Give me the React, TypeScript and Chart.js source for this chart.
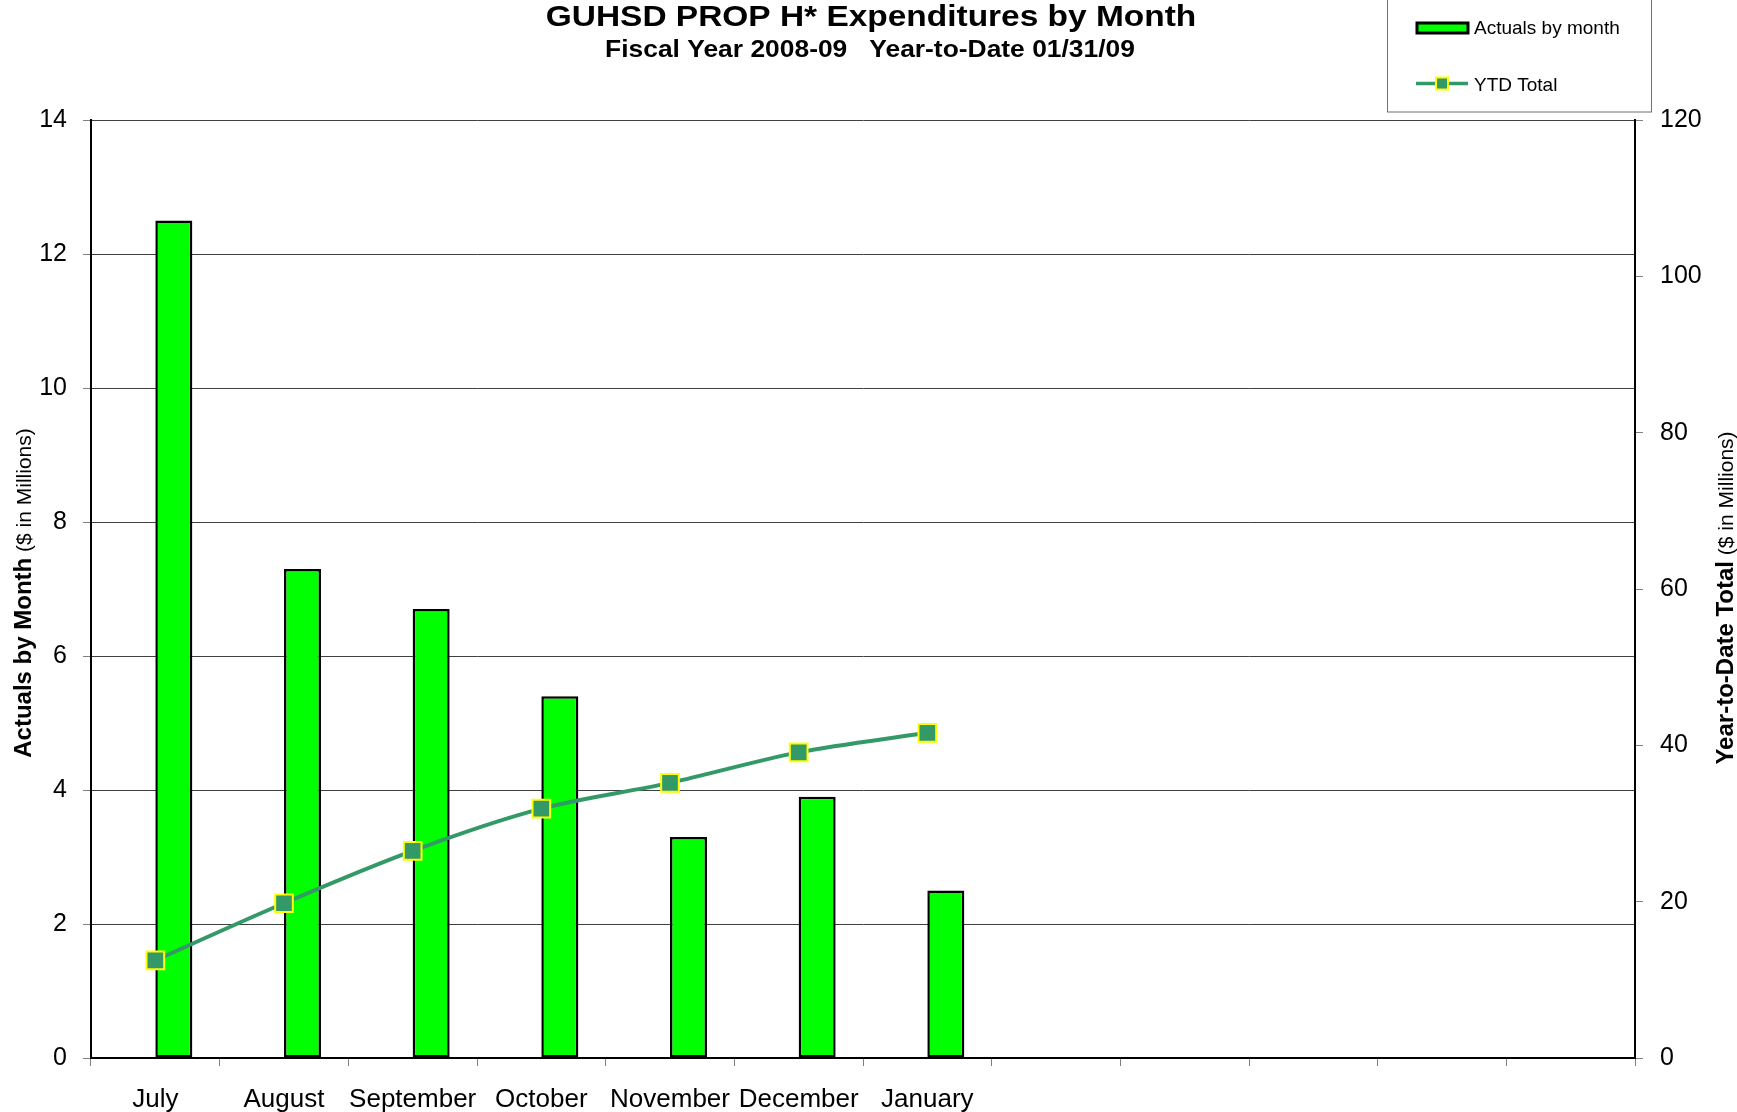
import React, { useEffect, useRef } from 'react';
import { Chart, registerables } from 'chart.js';

Chart.register(...registerables);

const TITLE = 'GUHSD PROP H* Expenditures by Month';
const SUBTITLE = 'Fiscal Year 2008-09   Year-to-Date 01/31/09';
const MONTHS = ['July', 'August', 'September', 'October', 'November', 'December', 'January', '', '', '', '', ''];
const ACTUALS = [12.5, 7.3, 6.7, 5.4, 3.3, 3.9, 2.5];
const YTD_TOTAL = [12.5, 19.8, 26.5, 31.9, 35.2, 39.1, 41.6];
const LEFT_AXIS = { min: 0, max: 14, step: 2 };
const RIGHT_AXIS = { min: 0, max: 120, step: 20 };
const LEFT_TITLE_BOLD = 'Actuals by Month';
const RIGHT_TITLE_BOLD = 'Year-to-Date Total';
const AXIS_TITLE_NOTE = ' ($ in Millions)';
const BAR_LABEL = 'Actuals by month';
const LINE_LABEL = 'YTD Total';

const FONT = '"Liberation Sans", Arial, sans-serif';
const BAR_GREEN = '#00FF00';
const LINE_GREEN = '#339966';
const MARKER_BORDER = '#FFFF00';

function drawScaledText(ctx: CanvasRenderingContext2D, text: string, font: string, cx: number, y: number, sx: number) {
  ctx.save();
  ctx.translate(cx, y);
  ctx.scale(sx, 1);
  ctx.font = font;
  ctx.fillStyle = '#000';
  ctx.textAlign = 'center';
  ctx.textBaseline = 'alphabetic';
  ctx.fillText(text, 0, 0);
  ctx.restore();
}

function drawVerticalTitle(ctx: CanvasRenderingContext2D, bold: string, normal: string, x: number, cy: number) {
  const boldFont = `bold 24px ${FONT}`;
  const normalFont = `21px ${FONT}`;
  ctx.save();
  ctx.font = boldFont;
  const wb = ctx.measureText(bold).width;
  ctx.font = normalFont;
  const wn = ctx.measureText(normal).width;
  const total = wb + wn;
  ctx.translate(x, cy);
  ctx.rotate(-Math.PI / 2);
  ctx.fillStyle = '#000';
  ctx.textAlign = 'left';
  ctx.textBaseline = 'alphabetic';
  ctx.font = boldFont;
  ctx.fillText(bold, -total / 2, 0);
  ctx.font = normalFont;
  ctx.fillText(normal, -total / 2 + wb, 0);
  ctx.restore();
}

const textPlugin = {
  id: 'customText',
  afterDraw(chart: any) {
    const ctx: CanvasRenderingContext2D = chart.ctx;
    drawScaledText(ctx, TITLE, `bold 30px ${FONT}`, 871, 26, 1.115);
    drawScaledText(ctx, SUBTITLE, `bold 24px ${FONT}`, 870, 57, 1.1);
    drawVerticalTitle(ctx, LEFT_TITLE_BOLD, AXIS_TITLE_NOTE, 31, 593);
    drawVerticalTitle(ctx, RIGHT_TITLE_BOLD, AXIS_TITLE_NOTE, 1733, 598);

    // legend box
    const barDs = chart.data.datasets[1];
    const lineDs = chart.data.datasets[2];
    ctx.save();
    ctx.fillStyle = '#fff';
    ctx.fillRect(1387.5, -5, 264, 117);
    ctx.strokeStyle = '#707070';
    ctx.lineWidth = 1;
    ctx.strokeRect(1387.5, -5, 264, 117);
    // bar swatch
    ctx.fillStyle = barDs.backgroundColor;
    ctx.fillRect(1417, 23, 51, 10);
    ctx.strokeStyle = barDs.borderColor;
    ctx.lineWidth = 3;
    ctx.strokeRect(1417, 23, 51, 10);
    // line swatch
    ctx.strokeStyle = lineDs.borderColor;
    ctx.lineWidth = 3.5;
    ctx.beginPath();
    ctx.moveTo(1416, 83.5);
    ctx.lineTo(1468, 83.5);
    ctx.stroke();
    ctx.fillStyle = lineDs.pointBackgroundColor;
    ctx.fillRect(1436, 77.5, 12, 12);
    ctx.strokeStyle = lineDs.pointBorderColor;
    ctx.lineWidth = 2;
    ctx.strokeRect(1436, 77.5, 12, 12);
    ctx.fillStyle = '#000';
    ctx.font = `19px ${FONT}`;
    ctx.textAlign = 'left';
    ctx.textBaseline = 'alphabetic';
    ctx.fillText(barDs.label, 1474, 34);
    ctx.fillText(lineDs.label, 1474, 91);
    ctx.restore();
  },
};

export default function App() {
  const canvasRef = useRef<HTMLCanvasElement | null>(null);

  useEffect(() => {
    if (!canvasRef.current) return;
    const chart = new Chart(canvasRef.current, {
      type: 'bar',
      data: {
        labels: MONTHS,
        datasets: [
          {
            type: 'bar',
            label: '',
            data: MONTHS.map(() => null),
            yAxisID: 'y',
            order: 1,
            categoryPercentage: 0.575,
            barPercentage: 1,
          } as any,
          {
            type: 'bar',
            label: BAR_LABEL,
            data: ACTUALS,
            backgroundColor: BAR_GREEN,
            borderColor: '#000000',
            borderWidth: 2.5,
            borderSkipped: false,
            yAxisID: 'y',
            order: 1,
            categoryPercentage: 0.575,
            barPercentage: 1,
          },
          {
            type: 'line',
            label: LINE_LABEL,
            data: YTD_TOTAL,
            borderColor: LINE_GREEN,
            borderWidth: 4,
            tension: 0.33,
            pointStyle: 'rect',
            pointRadius: 12.5,
            pointBackgroundColor: LINE_GREEN,
            pointBorderColor: MARKER_BORDER,
            pointBorderWidth: 2,
            yAxisID: 'y1',
            order: 0,
          },
        ],
      },
      options: {
        responsive: false,
        animation: false,
        layout: { padding: { top: 120, left: 0, right: 0, bottom: 0 } },
        plugins: {
          legend: { display: false },
          tooltip: { enabled: false },
          title: { display: false },
        },
        scales: {
          x: {
            type: 'category',
            offset: true,
            afterFit: (s: any) => { s.height = 54; },
            grid: {
              display: true,
              drawOnChartArea: false,
              offset: true,
              tickLength: 8,
              tickColor: '#808080',
            },
            border: { color: '#000', width: 2 },
            ticks: {
              color: '#000',
              font: { family: FONT, size: 26 },
              padding: 18,
              maxRotation: 0,
              minRotation: 0,
              autoSkip: false,
            },
          },
          y: {
            position: 'left',
            min: LEFT_AXIS.min,
            max: LEFT_AXIS.max,
            afterFit: (s: any) => { s.width = 91; },
            grid: {
              color: '#404040',
              lineWidth: 1,
              tickLength: 8,
              tickColor: '#808080',
            },
            border: { color: '#000', width: 2 },
            ticks: {
              stepSize: LEFT_AXIS.step,
              color: '#000',
              font: { family: FONT, size: 25 },
              padding: 16,
            },
          },
          y1: {
            position: 'right',
            min: RIGHT_AXIS.min,
            max: RIGHT_AXIS.max,
            afterFit: (s: any) => { s.width = 102; },
            grid: {
              drawOnChartArea: false,
              tickLength: 8,
              tickColor: '#808080',
            },
            border: { color: '#000', width: 2 },
            ticks: {
              stepSize: RIGHT_AXIS.step,
              color: '#000',
              font: { family: FONT, size: 25 },
              padding: 17,
            },
          },
        },
      } as any,
      plugins: [textPlugin],
    });
    return () => chart.destroy();
  }, []);

  return (
    <div style={{ position: 'absolute', left: 0, top: 0, width: 1737, height: 1112, background: '#fff' }}>
      <canvas ref={canvasRef} width={1737} height={1112} style={{ display: 'block', width: 1737, height: 1112 }} />
    </div>
  );
}
